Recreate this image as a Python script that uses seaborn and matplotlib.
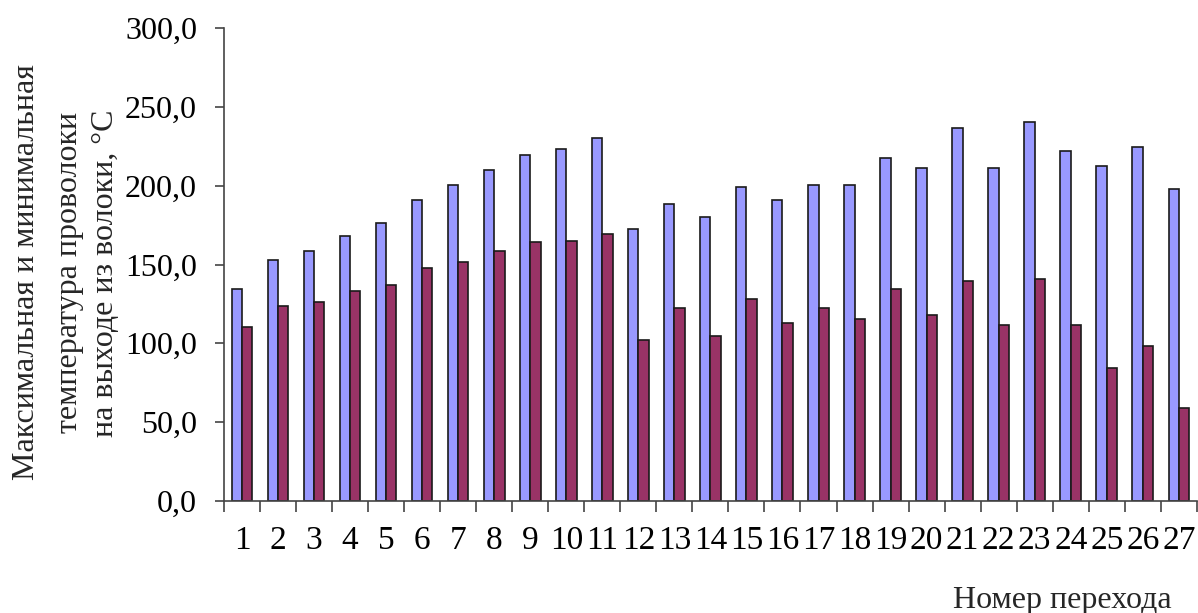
import pandas as pd
import matplotlib
matplotlib.use("Agg")
import matplotlib.pyplot as plt
import matplotlib.ticker as mticker
import seaborn as sns

# --- Data ---
passes = [str(i) for i in range(1, 28)]
t_max = [134.6, 153.0, 158.5, 168.3, 176.1, 191.2, 200.3, 209.8, 219.3, 223.1,
         230.1, 172.3, 188.2, 180.1, 199.2, 191.2, 200.3, 200.3, 217.8, 211.1,
         236.9, 211.1, 240.7, 221.9, 212.5, 224.9, 197.7]
t_min = [110.2, 123.5, 126.5, 133.3, 136.9, 147.7, 151.7, 158.5, 164.2, 165.1,
         169.3, 101.9, 122.1, 104.7, 127.8, 112.7, 122.1, 115.7, 134.3, 118.0,
         139.7, 111.5, 141.1, 111.5, 84.4, 98.1, 58.9]
y_ticks = [0, 50, 100, 150, 200, 250, 300]

df = pd.DataFrame({
    'pass': passes * 2,
    'temp': t_max + t_min,
    'series': ['max'] * len(passes) + ['min'] * len(passes),
})

# --- Style ---
sns.set_theme(style='white')
plt.rcParams['font.family'] = ['Liberation Serif', 'DejaVu Serif']
plt.rcParams['xtick.major.pad'] = 18
plt.rcParams['xtick.major.size'] = 0
plt.rcParams['ytick.major.pad'] = 13

fig = plt.figure(figsize=(11.98, 6.13), dpi=100)
ax = fig.add_axes([0.187, 0.183, 0.812, 0.771])

sns.barplot(data=df, x='pass', y='temp', hue='series', order=passes,
            palette={'max': '#9999FF', 'min': '#993366'}, saturation=1,
            width=0.57, edgecolor='#1a1a1a', linewidth=1.2, legend=False, ax=ax)

ax.set_xlim(-0.5, len(passes) - 0.5)
ax.set_ylim(0, 300)
ax.set_yticks(y_ticks)
ax.yaxis.set_major_formatter(mticker.FuncFormatter(lambda v, p: f"{v:.1f}".replace('.', ',')))

# category boundary ticks on x axis
ax.set_xticks([i - 0.5 for i in range(len(passes) + 1)], minor=True)
ax.tick_params(axis='x', which='major', length=0, pad=18, labelsize=24, labelcolor='black')
ax.tick_params(axis='x', which='minor', bottom=True, direction='out', length=8,
               width=1.2, color='#444444')
ax.tick_params(axis='y', which='major', left=True, direction='out', length=6.5, width=1.2,
               color='#444444', pad=13, labelsize=23, labelcolor='black')

for s in ['top', 'right']:
    ax.spines[s].set_visible(False)
for s in ['left', 'bottom']:
    ax.spines[s].set_color('#444444')
    ax.spines[s].set_linewidth(1.2)

ax.set_xlabel('')
ax.set_ylabel('')

# y axis label, three lines
fig.text(0.0220, 0.556, 'Максимальная и минимальная', rotation=90,
         ha='center', va='center', fontsize=23)
fig.text(0.0580, 0.555, 'температура проволоки', rotation=90,
         ha='center', va='center', fontsize=23)
fig.text(0.0880, 0.555, 'на выходе из волоки, °C', rotation=90,
         ha='center', va='center', fontsize=23)

fig.text(0.978, 0.008, 'Номер перехода', ha='right', va='baseline', fontsize=23)

fig.savefig('out.png', dpi=100)
